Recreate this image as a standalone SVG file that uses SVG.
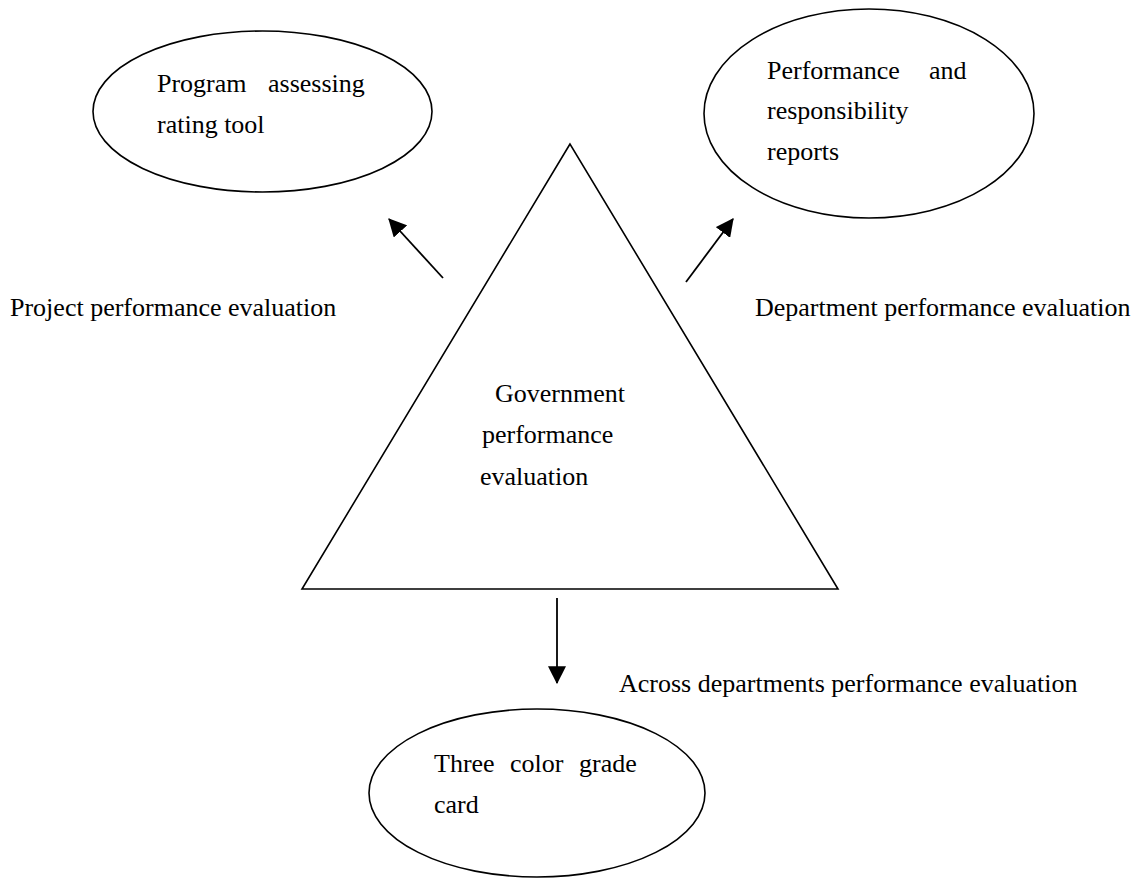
<svg xmlns="http://www.w3.org/2000/svg" width="1139" height="878" viewBox="0 0 1139 878">
<style>
.shape{fill:none;stroke:#000;stroke-width:1.6}
.conn{fill:none;stroke:#000;stroke-width:1.8}
text{font-family:"Liberation Serif","Times New Roman",serif;font-size:26px;fill:#000}
</style>
<defs>
<marker id="ah" markerUnits="userSpaceOnUse" markerWidth="18" markerHeight="18" viewBox="0 0 16 16" refX="15" refY="8" orient="auto">
<path d="M0,0 L16,8 L0,16 Z" fill="#000"/>
</marker>
</defs>
<rect width="1139" height="878" fill="#fff"/>
<g id="center">
<polygon class="shape" points="570,144 302,589 838,589" stroke-linejoin="miter"/>
<text x="495" y="402">Government</text>
<text x="482" y="443">performance</text>
<text x="480" y="485">evaluation</text>
</g>
<g id="program">
<ellipse class="shape" cx="262.5" cy="111.5" rx="169.5" ry="80.5"/>
<text x="157" y="92">Program</text>
<text x="268" y="92">assessing</text>
<text x="157" y="133">rating tool</text>
</g>
<g id="reports">
<ellipse class="shape" cx="869" cy="113.5" rx="165" ry="104.5"/>
<text x="767" y="79">Performance</text>
<text x="929" y="79">and</text>
<text x="767" y="119">responsibility</text>
<text x="767" y="160">reports</text>
</g>
<g id="gradecard">
<ellipse class="shape" cx="537" cy="793" rx="168" ry="84"/>
<text x="434" y="772">Three</text>
<text x="510" y="772">color</text>
<text x="579" y="772">grade</text>
<text x="434" y="813">card</text>
</g>
<g id="connectors">
<line class="conn" x1="443" y1="278" x2="389" y2="219" marker-end="url(#ah)"/>
<line class="conn" x1="686" y1="282" x2="733" y2="219" marker-end="url(#ah)"/>
<line class="conn" x1="557" y1="598" x2="557" y2="683" marker-end="url(#ah)"/>
</g>
<g id="labels">
<text x="10" y="316">Project performance evaluation</text>
<text x="755" y="316">Department performance evaluation</text>
<text x="619" y="692">Across departments performance evaluation</text>
</g>
</svg>
